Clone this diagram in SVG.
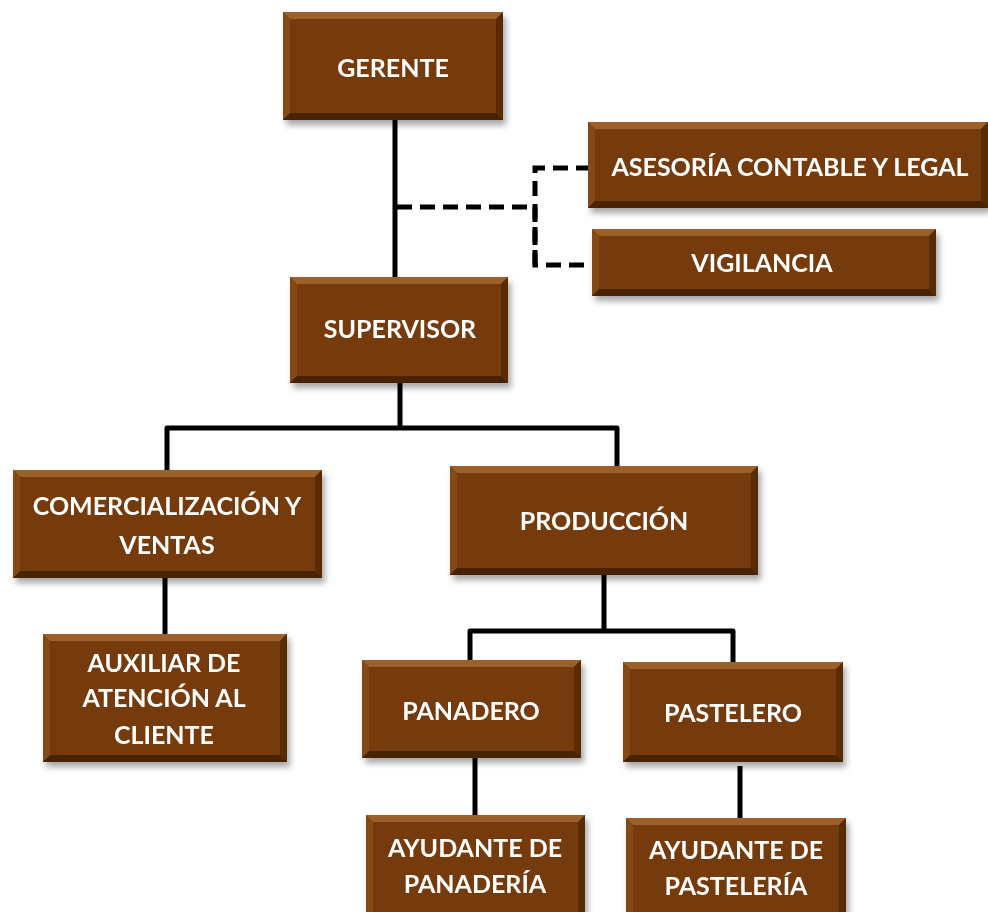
<svg xmlns="http://www.w3.org/2000/svg" width="988" height="912" viewBox="0 0 988 912">
<style>
.box{fill:#763a0a}
.bt{fill:#9c602a}
.bl{fill:#854812}
.br{fill:#5a2c05}
.bb{fill:#4a2403}
.t{font-family:Lato,"Open Sans",sans-serif;font-weight:bold;font-size:25px;fill:#ffffff;text-anchor:middle}
.ln{stroke:#000;stroke-width:5;fill:none;stroke-linejoin:round}
.dl{stroke:#000;stroke-width:5;fill:none;stroke-dasharray:15 8}
</style>
<defs>
<filter id="sh" x="-10%" y="-10%" width="125%" height="130%">
<feDropShadow dx="3" dy="5" stdDeviation="3" flood-color="#000" flood-opacity="0.35"/>
</filter>
</defs>
<rect width="988" height="912" fill="#fff"/>
<g id="connectors">
<path class="ln" d="M395 120 V277"/>
<path class="dl" d="M397 207 H530"/>
<path class="dl" d="M535 265 V168 H590"/>
<path class="dl" d="M535 207 V265 H592"/>
<path class="ln" d="M400 383 V428 M167 470 V428 H617 V466"/>
<path class="ln" d="M165 578 V635"/>
<path class="ln" d="M604 575 V631 M470 662 V631 H733 V663"/>
<path class="ln" d="M475 758 V815"/>
<path class="ln" d="M740 766 V820"/>
</g>
<g id="gerente" filter="url(#sh)">
<rect class="box" x="283" y="12" width="220" height="108"/>
<polygon class="bt" points="283,12 503,12 496,19 290,19"/>
<polygon class="bl" points="283,12 290,19 290,113 283,120"/>
<polygon class="br" points="503,12 503,120 496,113 496,19"/>
<polygon class="bb" points="283,120 503,120 496,113 290,113"/>
<text class="t" x="393" y="77">GERENTE</text>
</g>
<g id="asesoria" filter="url(#sh)">
<rect class="box" x="588" y="122" width="400" height="86"/>
<polygon class="bt" points="588,122 988,122 981,129 595,129"/>
<polygon class="bl" points="588,122 595,129 595,201 588,208"/>
<polygon class="br" points="988,122 988,208 981,201 981,129"/>
<polygon class="bb" points="588,208 988,208 981,201 595,201"/>
<text class="t" x="790" y="176">ASESORÍA CONTABLE Y LEGAL</text>
</g>
<g id="vigilancia" filter="url(#sh)">
<rect class="box" x="592" y="229" width="344" height="67"/>
<polygon class="bt" points="592,229 936,229 929,236 599,236"/>
<polygon class="bl" points="592,229 599,236 599,289 592,296"/>
<polygon class="br" points="936,229 936,296 929,289 929,236"/>
<polygon class="bb" points="592,296 936,296 929,289 599,289"/>
<text class="t" x="762" y="272">VIGILANCIA</text>
</g>
<g id="supervisor" filter="url(#sh)">
<rect class="box" x="290" y="277" width="218" height="106"/>
<polygon class="bt" points="290,277 508,277 501,284 297,284"/>
<polygon class="bl" points="290,277 297,284 297,376 290,383"/>
<polygon class="br" points="508,277 508,383 501,376 501,284"/>
<polygon class="bb" points="290,383 508,383 501,376 297,376"/>
<text class="t" x="400" y="338">SUPERVISOR</text>
</g>
<g id="comercializacion" filter="url(#sh)">
<rect class="box" x="13" y="470" width="309" height="108"/>
<polygon class="bt" points="13,470 322,470 315,477 20,477"/>
<polygon class="bl" points="13,470 20,477 20,571 13,578"/>
<polygon class="br" points="322,470 322,578 315,571 315,477"/>
<polygon class="bb" points="13,578 322,578 315,571 20,571"/>
<text class="t" x="167" y="515">COMERCIALIZACIÓN Y</text>
<text class="t" x="167" y="554">VENTAS</text>
</g>
<g id="produccion" filter="url(#sh)">
<rect class="box" x="450" y="466" width="308" height="109"/>
<polygon class="bt" points="450,466 758,466 751,473 457,473"/>
<polygon class="bl" points="450,466 457,473 457,568 450,575"/>
<polygon class="br" points="758,466 758,575 751,568 751,473"/>
<polygon class="bb" points="450,575 758,575 751,568 457,568"/>
<text class="t" x="604" y="530">PRODUCCIÓN</text>
</g>
<g id="auxiliar" filter="url(#sh)">
<rect class="box" x="43" y="634" width="244" height="128"/>
<polygon class="bt" points="43,634 287,634 280,641 50,641"/>
<polygon class="bl" points="43,634 50,641 50,755 43,762"/>
<polygon class="br" points="287,634 287,762 280,755 280,641"/>
<polygon class="bb" points="43,762 287,762 280,755 50,755"/>
<text class="t" x="164" y="672">AUXILIAR DE</text>
<text class="t" x="164" y="707">ATENCIÓN AL</text>
<text class="t" x="164" y="744">CLIENTE</text>
</g>
<g id="panadero" filter="url(#sh)">
<rect class="box" x="362" y="660" width="219" height="98"/>
<polygon class="bt" points="362,660 581,660 574,667 369,667"/>
<polygon class="bl" points="362,660 369,667 369,751 362,758"/>
<polygon class="br" points="581,660 581,758 574,751 574,667"/>
<polygon class="bb" points="362,758 581,758 574,751 369,751"/>
<text class="t" x="471" y="720">PANADERO</text>
</g>
<g id="pastelero" filter="url(#sh)">
<rect class="box" x="623" y="662" width="220" height="100"/>
<polygon class="bt" points="623,662 843,662 836,669 630,669"/>
<polygon class="bl" points="623,662 630,669 630,755 623,762"/>
<polygon class="br" points="843,662 843,762 836,755 836,669"/>
<polygon class="bb" points="623,762 843,762 836,755 630,755"/>
<text class="t" x="733" y="722">PASTELERO</text>
</g>
<g id="ayudante-panaderia" filter="url(#sh)">
<rect class="box" x="366" y="815" width="219" height="110"/>
<polygon class="bt" points="366,815 585,815 578,822 373,822"/>
<polygon class="bl" points="366,815 373,822 373,925 366,925"/>
<polygon class="br" points="585,815 585,925 578,925 578,822"/>
<text class="t" x="475" y="857">AYUDANTE DE</text>
<text class="t" x="475" y="893">PANADERÍA</text>
</g>
<g id="ayudante-pasteleria" filter="url(#sh)">
<rect class="box" x="626" y="818" width="220" height="110"/>
<polygon class="bt" points="626,818 846,818 839,825 633,825"/>
<polygon class="bl" points="626,818 633,825 633,928 626,928"/>
<polygon class="br" points="846,818 846,928 839,928 839,825"/>
<text class="t" x="736" y="859">AYUDANTE DE</text>
<text class="t" x="736" y="895">PASTELERÍA</text>
</g>
</svg>
